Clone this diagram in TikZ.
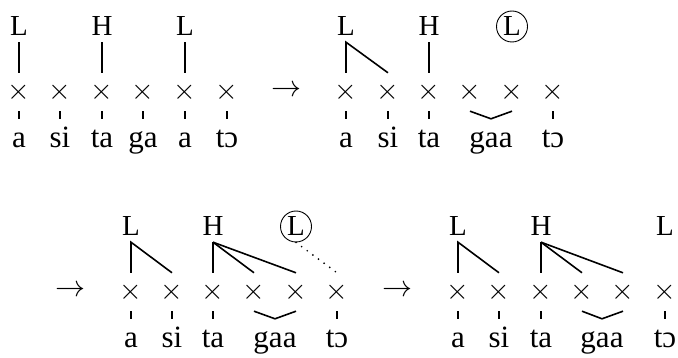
\RequirePackage{fix-cm}
\documentclass[tikz,border=0pt]{standalone}
\usepackage{fontspec}
\setmainfont{Liberation Serif}
\begin{document}
\begin{tikzpicture}[x=1pt,y=-1pt,
  every node/.style={font=\fontsize{29}{34}\selectfont, inner sep=0pt},
  tone/.style={anchor=base, text depth=6pt},
  circtone/.style={circle, draw, line width=0.9pt, minimum size=31pt},
  xm/.style={minimum height=38pt, font=\fontsize{29}{34}\selectfont},
  syl/.style={anchor=base, text height=29pt, font=\fontsize{31}{36}\selectfont},
  arr/.style={font=\fontsize{30}{35}\selectfont},
  assoc/.style={line width=1.6pt},
  tick/.style={line width=1.6pt},
  dots/.style={line width=1.9pt, line cap=round, dash pattern=on 0pt off 7pt}]
\useasboundingbox (0,0) rectangle (678,358);

% ---------- panel 1 ----------
\foreach \i/\x in {1/19,2/60,3/102,4/143,5/185,6/227}
  \node[xm] (a\i) at (\x,92) {$\times$};
\foreach \i/\x/\s in {1/19/a,2/60/si,3/102/ta,4/143/ga,5/185/a,6/227/tɔ}
  \node[syl] (as\i) at (\x,148) {\s};
\foreach \i in {1,...,6}
  \draw[tick] (a\i.south) -- (as\i.north);
\node[tone] (aL1) at (19,36) {L};
\node[tone] (aH) at (102,36) {H};
\node[tone] (aL2) at (185,36) {L};
\draw[assoc] (aL1.south) -- (a1.north);
\draw[assoc] (aH.south) -- (a3.north);
\draw[assoc] (aL2.south) -- (a5.north);

\node[arr] (ar1) at (286,91) {$\rightarrow$};

% ---------- panel 2 ----------
\foreach \i/\x in {1/346,2/388,3/429,4/470,5/512,6/553}
  \node[xm] (b\i) at (\x,92) {$\times$};
\foreach \i/\x/\s in {1/346/a,2/388/si,3/429/ta,6/553/tɔ}
  \node[syl] (bs\i) at (\x,148) {\s};
\node[syl] (bgaa) at (491,148) {gaa};
\foreach \i in {1,2,3,6}
  \draw[tick] (b\i.south) -- (bs\i.north);
\draw[tick] (b4.south) -- (bgaa.north) -- (b5.south);
\node[tone] (bL) at (346,36) {L};
\node[tone] (bH) at (429,36) {H};
\node[circtone] (bC) at (512,26.5) {L};
\draw[assoc] (b1.north) -- (bL.south) -- (b2.north);
\draw[assoc] (bH.south) -- (b3.north);

% ---------- panel 3 ----------
\node[arr] (ar2) at (71,291) {$\rightarrow$};
\foreach \i/\x in {1/131,2/172,3/213,4/254,5/296,6/337}
  \node[xm] (c\i) at (\x,292) {$\times$};
\foreach \i/\x/\s in {1/131/a,2/172/si,3/213/ta,6/337/tɔ}
  \node[syl] (cs\i) at (\x,348) {\s};
\node[syl] (cgaa) at (275,348) {gaa};
\foreach \i in {1,2,3,6}
  \draw[tick] (c\i.south) -- (cs\i.north);
\draw[tick] (c4.south) -- (cgaa.north) -- (c5.south);
\node[tone] (cL) at (131,236) {L};
\node[tone] (cH) at (213,236) {H};
\node[circtone] (cC) at (296,226.5) {L};
\draw[assoc] (c1.north) -- (cL.south) -- (c2.north);
\draw[assoc] (cH.south) -- (c3.north);
\draw[assoc] (cH.south) -- (c4.north);
\draw[assoc] (cH.south) -- (c5.north);
\draw[dots] (cC.south) -- (c6.north);

% ---------- panel 4 ----------
\node[arr] (ar3) at (397,291) {$\rightarrow$};
\foreach \i/\x in {1/458,2/499,3/541,4/582,5/623,6/665}
  \node[xm] (d\i) at (\x,292) {$\times$};
\foreach \i/\x/\s in {1/458/a,2/499/si,3/541/ta,6/665/tɔ}
  \node[syl] (ds\i) at (\x,348) {\s};
\node[syl] (dgaa) at (602,348) {gaa};
\foreach \i in {1,2,3,6}
  \draw[tick] (d\i.south) -- (ds\i.north);
\draw[tick] (d4.south) -- (dgaa.north) -- (d5.south);
\node[tone] (dL) at (458,236) {L};
\node[tone] (dH) at (541,236) {H};
\node[tone] (dL2) at (665,236) {L};
\draw[assoc] (d1.north) -- (dL.south) -- (d2.north);
\draw[assoc] (dH.south) -- (d3.north);
\draw[assoc] (dH.south) -- (d4.north);
\draw[assoc] (dH.south) -- (d5.north);
\end{tikzpicture}
\end{document}
